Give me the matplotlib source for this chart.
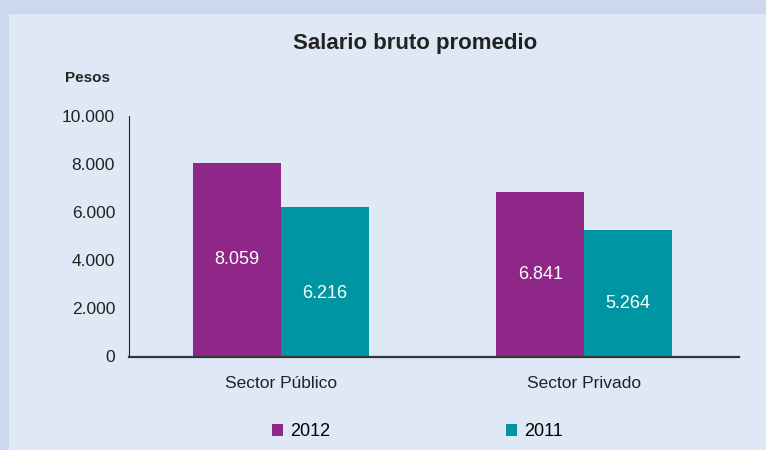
import matplotlib.pyplot as plt
import numpy as np

plt.rcParams['font.family'] = ['Liberation Sans', 'DejaVu Sans']

sectores = ['Sector Público', 'Sector Privado']
anios = ['2012', '2011']
sal_2012 = [8059, 6841]
sal_2011 = [6216, 5264]
yticks = [0, 2000, 4000, 6000, 8000, 10000]
ytick_labels = ['0', '2.000', '4.000', '6.000', '8.000', '10.000']

col_2012 = '#8e2787'
col_2011 = '#0095a3'
fondo = '#dfe9f5'
borde = '#cdd8ef'

fig = plt.figure(figsize=(7.66, 4.5), dpi=100)
fig.patch.set_facecolor(borde)
# inner panel
fig.patches.append(plt.Rectangle((9/766, 0), 1, 1 - 14/450, transform=fig.transFigure,
                                 facecolor=fondo, edgecolor='none', zorder=-1))

ax = fig.add_axes([129/766, 1 - 356.5/450, 610/766, 240.5/450])
ax.set_facecolor('none')

x = np.arange(len(sectores))
w = 0.29
b1 = ax.bar(x - w/2, sal_2012, w, color=col_2012, label=anios[0])
b2 = ax.bar(x + w/2, sal_2011, w, color=col_2011, label=anios[1])

def fmt(v):
    return f'{v:,}'.replace(',', '.')

for i in range(len(sectores)):
    ax.text(x[i] - w/2, sal_2012[i] * 0.5, fmt(sal_2012[i]), ha='center', va='center',
            color='white', fontsize=13)
    ax.text(x[i] + w/2, sal_2011[i] * 0.42, fmt(sal_2011[i]), ha='center', va='center',
            color='white', fontsize=13)

ax.set_xlim(-0.5, 1.51)
ax.set_ylim(0, 10000)
ax.set_yticks(yticks)
ax.set_yticklabels(ytick_labels)
ax.set_xticks(x)
ax.set_xticklabels(sectores)
ax.tick_params(axis='both', length=0, labelsize=12.5, colors='#222222', pad=10)
ax.tick_params(axis='x', pad=14)
for s in ['top', 'right']:
    ax.spines[s].set_visible(False)
ax.spines['left'].set_color('#222222')
ax.spines['bottom'].set_color('#333333')
ax.spines['bottom'].set_linewidth(1.6)

fig.text(415/766, 1 - 43/450, 'Salario bruto promedio', ha='center', va='center',
         fontsize=16, fontweight='bold', color='#222222')
fig.text(88/766, 1 - 78/450, 'Pesos', ha='center', va='center',
         fontsize=11, fontweight='bold', color='#222222')

fig.legend(handles=[b1, b2], labels=anios, loc='center', bbox_to_anchor=(0.545, 1 - 432/450),
           ncol=2, frameon=False, fontsize=13, handlelength=0.6, handleheight=0.6,
           handletextpad=0.4, columnspacing=9.7)

fig.savefig('out.png', dpi=100, facecolor=fig.get_facecolor())
